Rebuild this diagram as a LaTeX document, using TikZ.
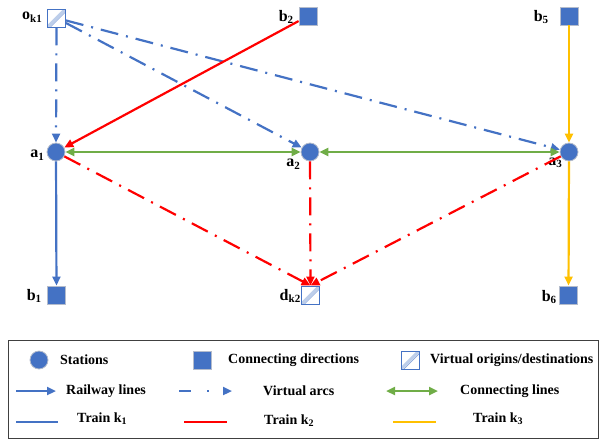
\documentclass[tikz,border=0pt]{standalone}
\usepackage{fontspec}
\setmainfont{Liberation Serif}
\usetikzlibrary{arrows.meta}
\definecolor{cblue}{HTML}{4472C4}
\definecolor{cred}{HTML}{FF0000}
\definecolor{cgreen}{HTML}{70AD47}
\definecolor{cyellow}{HTML}{FFC000}
\definecolor{cbord}{HTML}{B4BCCC}
\newcommand\lbl[2]{#1\raisebox{-0.35ex}{\fontsize{11}{12}\selectfont #2}}
\newcommand\lgs[2]{#1\raisebox{-0.35ex}{\fontsize{10}{11}\selectfont #2}}
\tikzset{
  station/.style={circle, fill=cblue, draw=cbord, line width=0.8pt, minimum size=18pt, inner sep=0pt},
  conn/.style={rectangle, fill=cblue, draw=cbord, line width=0.8pt, minimum size=18pt, inner sep=0pt},
  virt/.style={rectangle, fill=white, draw=cblue, line width=0.9pt, minimum size=18pt, inner sep=0pt,
    path picture={
      \draw[cblue!35, line width=3pt] (path picture bounding box.south west) -- (path picture bounding box.north east);
      \draw[cblue!70, line width=0.6pt] ([xshift=3pt]path picture bounding box.south west) -- ([yshift=-3pt]path picture bounding box.north east);
    }},
  lab/.style={font=\fontsize{16}{18}\bfseries\selectfont, inner sep=0pt},
  legtxt/.style={font=\fontsize{14}{16}\bfseries\selectfont, inner sep=0pt, anchor=west},
  tip/.style={-{Triangle[length=9pt,width=8pt]}},
  dtip/.style={{Triangle[length=9pt,width=8pt]}-{Triangle[length=9pt,width=8pt]}},
  dashdot/.style={dash pattern=on 18pt off 8pt on 2pt off 8pt},
  legdashdot/.style={dash pattern=on 12pt off 16pt on 2pt off 40pt},
  bluel/.style={draw=cblue, line width=2.2pt},
  redl/.style={draw=cred, line width=2.2pt},
  greenl/.style={draw=cgreen, line width=2.6pt},
  yell/.style={draw=cyellow, line width=2.2pt},
}
\begin{document}
\begin{tikzpicture}[x=1pt,y=-1pt]
\useasboundingbox (0,0) rectangle (601,439);
% nodes
\node[virt] (ok1) at (56.5,18) {};
\node[conn] (b2) at (308,16) {};
\node[conn] (b5) at (569,16) {};
\node[station] (a1) at (56,152) {};
\node[station] (a2) at (310,152) {};
\node[station] (a3) at (569,152) {};
\node[conn] (b1) at (56.5,295) {};
\node[virt] (dk2) at (310.5,295) {};
\node[conn] (b6) at (568.5,295) {};
% labels
\node[lab] (lok1) at (32,17) {\lbl{o}{k1}};
\node[lab] (lb2) at (286,17) {\lbl{b}{2}};
\node[lab] (lb5) at (541,17) {\lbl{b}{5}};
\node[lab] (la1) at (37,155) {\lbl{a}{1}};
\node[lab] (la2) at (293,164) {\lbl{a}{2}};
\node[lab] (la3) at (555,163) {\lbl{a}{3}};
\node[lab] (lb1) at (34,296) {\lbl{b}{1}};
\node[lab] (ldk2) at (290,296) {\lbl{d}{k2}};
\node[lab] (lb6) at (549,297) {\lbl{b}{6}};
% connectors
\draw[bluel, dashdot, tip] (ok1) -- (a1);
\draw[bluel, dashdot, tip] (ok1) -- (a2);
\draw[bluel, dashdot, tip] (ok1) -- (a3);
\draw[redl, tip] (b2) -- (a1);
\draw[greenl, dtip] (a1) -- (a2);
\draw[greenl, dtip] (a2) -- (a3);
\draw[bluel, tip] (a1) -- (b1);
\draw[redl, dashdot, tip] (a1) -- (dk2.north);
\draw[redl, dashdot, tip] (a2) -- (dk2.north);
\draw[redl, dashdot, tip] (a3) -- (dk2.north);
\draw[yell, tip] (b5) -- (a3);
\draw[yell, tip] (a3) -- (b6);
% legend
\node[draw=black!75, line width=1pt, minimum width=590pt, minimum height=98pt, inner sep=0pt] (legend) at (303,389) {};
\node[station] (ls1) at (39,360) {};
\node[legtxt] (lt1) at (60,360) {Stations};
\node[conn] (ls2) at (202,360) {};
\node[legtxt] (lt2) at (228,360) {Connecting directions};
\node[virt] (ls3) at (410,360) {};
\node[legtxt] (lt3) at (430,360) {Virtual origins/destinations};
\coordinate (r2a) at (16,391); \coordinate (r2b) at (56,391);
\draw[bluel, tip] (r2a) -- (r2b);
\node[legtxt] (lt4) at (66,391) {Railway lines};
\coordinate (r2c) at (179,391); \coordinate (r2d) at (232,391);
\draw[bluel, legdashdot, tip] (r2c) -- (r2d);
\node[legtxt] (lt5) at (263,391) {Virtual arcs};
\coordinate (r2e) at (386,391); \coordinate (r2f) at (438,391);
\draw[greenl, dtip] (r2e) -- (r2f);
\node[legtxt] (lt6) at (460,391) {Connecting lines};
\coordinate (r3a) at (16,422); \coordinate (r3b) at (58,422);
\draw[cblue, line width=2.4pt] (r3a) -- (r3b);
\node[legtxt] (lt7) at (77,419) {\lgs{Train k}{1}};
\coordinate (r3c) at (184,422); \coordinate (r3d) at (227,422);
\draw[cred, line width=2.4pt] (r3c) -- (r3d);
\node[legtxt] (lt8) at (264,421) {\lgs{Train k}{2}};
\coordinate (r3e) at (393,422); \coordinate (r3f) at (436,422);
\draw[cyellow, line width=2.4pt] (r3e) -- (r3f);
\node[legtxt] (lt9) at (473,419) {\lgs{Train k}{3}};
\end{tikzpicture}
\end{document}
